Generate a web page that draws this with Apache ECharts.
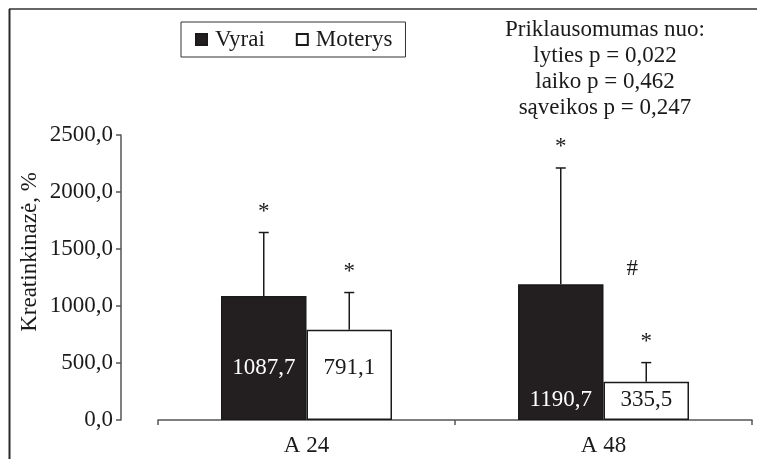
<!DOCTYPE html>
<html>
<head>
<meta charset="utf-8">
<style>
  html, body { margin: 0; padding: 0; background: #fff; }
  #chart { width: 757px; height: 459px; }
</style>
<script src="https://cdn.jsdelivr.net/npm/echarts@6/dist/echarts.min.js"></script>
</head>
<body>
<div id="chart"></div>
<script>
// Creatine kinase change by sex at two time points (mean ± SD)
const categories = ['A 24', 'A 48'];
const vyraiMean = [1087.7, 1190.7];
const vyraiSd = [557, 1020];
const moterysMean = [791.1, 335.5];
const moterysSd = [327, 168];
const vyraiMarks = ['*', '*'];
const moterysMarks = ['*', '*'];
const sexDiffMarks = ['', '#'];
const yMin = 0, yMax = 2500, yStep = 500;
const pLines = [
  'Priklausomumas nuo:',
  'lyties p = 0,022',
  'laiko p = 0,462',
  'sąveikos p = 0,247'
];

const FONT = '"Liberation Serif", "Times New Roman", serif';
const FS = 23;
const BAR_W = 85.5;
const labelLift = [41, 9];

const fmt = v => v.toFixed(1).replace('.', ',');

function barData(values, color) {
  return values.map((v, i) => ({
    value: v,
    label: { distance: labelLift[i], color: color }
  }));
}

// error whisker + significance mark above it
function errorSeries(name, means, sds, marks, side, extra) {
  return {
    type: 'custom',
    name: name + ' SD',
    silent: true,
    z: 5,
    data: means.map((m, i) => [i, m, sds[i]]),
    renderItem: function (params, api) {
      const i = api.value(0);
      const base = api.coord([i, api.value(1)]);
      const top = api.coord([i, api.value(1) + api.value(2)]);
      const x = base[0] + side * BAR_W / 2;
      const children = [
        { type: 'line', shape: { x1: x, y1: base[1], x2: x, y2: top[1] },
          style: { stroke: '#1a1a1a', lineWidth: 1.5 } },
        { type: 'line', shape: { x1: x - 5, y1: top[1], x2: x + 5, y2: top[1] },
          style: { stroke: '#1a1a1a', lineWidth: 1.5 } }
      ];
      const mark = marks[params.dataIndex];
      if (mark) {
        children.push({ type: 'text', x: x, y: top[1] - 21,
          style: { text: mark, font: FS + 'px ' + FONT, fill: '#1a1a1a',
                   align: 'center', verticalAlign: 'middle' } });
      }
      const ex = extra ? extra[params.dataIndex] : '';
      if (ex) {
        children.push({ type: 'text', x: x - 14, y: top[1] - 94,
          style: { text: ex, font: FS + 'px ' + FONT, fill: '#1a1a1a',
                   align: 'center', verticalAlign: 'middle' } });
      }
      return { type: 'group', children: children };
    }
  };
}

const chart = echarts.init(document.getElementById('chart'));
chart.setOption({
  animation: false,
  backgroundColor: '#fff',
  textStyle: { fontFamily: FONT },
  grid: { left: 158, right: 5, top: 135, bottom: 39 },
  legend: {
    left: 181, top: 22,
    padding: [5, 13, 5, 14],
    borderColor: '#333', borderWidth: 1,
    icon: 'rect',
    itemWidth: 11, itemHeight: 11, itemGap: 31,
    data: ['Vyrai', 'Moterys'],
    textStyle: { fontFamily: FONT, fontSize: FS, color: '#1a1a1a', lineHeight: 25, padding: [0, 0, 0, 3] }
  },
  xAxis: {
    type: 'category',
    data: categories,
    axisLine: { lineStyle: { color: '#555', width: 1.5 } },
    axisTick: { show: true, length: 5, lineStyle: { color: '#555', width: 1.5 } },
    axisLabel: { fontFamily: FONT, fontSize: FS, color: '#1a1a1a', margin: 14 },
    splitLine: { show: false }
  },
  yAxis: {
    type: 'value',
    min: yMin, max: yMax, interval: yStep,
    offset: 37,
    axisLine: { show: true, lineStyle: { color: '#555', width: 1.5 } },
    axisTick: { show: true, length: 5, lineStyle: { color: '#555', width: 1.5 } },
    axisLabel: { fontFamily: FONT, fontSize: FS, color: '#1a1a1a', margin: 8,
                 formatter: v => fmt(v) },
    splitLine: { show: false }
  },
  series: [
    {
      name: 'Vyrai', type: 'bar', barWidth: BAR_W, barGap: '0%',
      itemStyle: { color: '#231f20', borderColor: '#1a1a1a', borderWidth: 1.5 },
      label: { show: true, position: 'insideBottom', fontFamily: FONT, fontSize: FS,
               formatter: p => fmt(p.value) },
      data: barData(vyraiMean, '#ffffff')
    },
    {
      name: 'Moterys', type: 'bar', barWidth: BAR_W, barGap: '0%',
      itemStyle: { color: '#ffffff', borderColor: '#1a1a1a', borderWidth: 1.5 },
      label: { show: true, position: 'insideBottom', fontFamily: FONT, fontSize: FS,
               formatter: p => fmt(p.value) },
      data: barData(moterysMean, '#1a1a1a')
    },
    errorSeries('Vyrai', vyraiMean, vyraiSd, vyraiMarks, -1, null),
    errorSeries('Moterys', moterysMean, moterysSd, moterysMarks, 1, sexDiffMarks)
  ],
  graphic: [
    { type: 'line', shape: { x1: 9, y1: 9, x2: 757, y2: 9 },
      style: { stroke: '#666', lineWidth: 2 } },
    { type: 'line', shape: { x1: 9.5, y1: 9, x2: 9.5, y2: 459 },
      style: { stroke: '#2a2a2a', lineWidth: 2 } },
    { type: 'text', x: 30, y: 252, rotation: Math.PI / 2,
      style: { text: 'Kreatinkinazė, %', font: FS + 'px ' + FONT, fill: '#1a1a1a',
               align: 'center', verticalAlign: 'middle' } },
    { type: 'text', x: 605, y: 17,
      style: { text: pLines.join('\n'), font: FS + 'px ' + FONT, fill: '#1a1a1a',
               align: 'center', verticalAlign: 'top', lineHeight: 26 } }
  ]
});
</script>
</body>
</html>
